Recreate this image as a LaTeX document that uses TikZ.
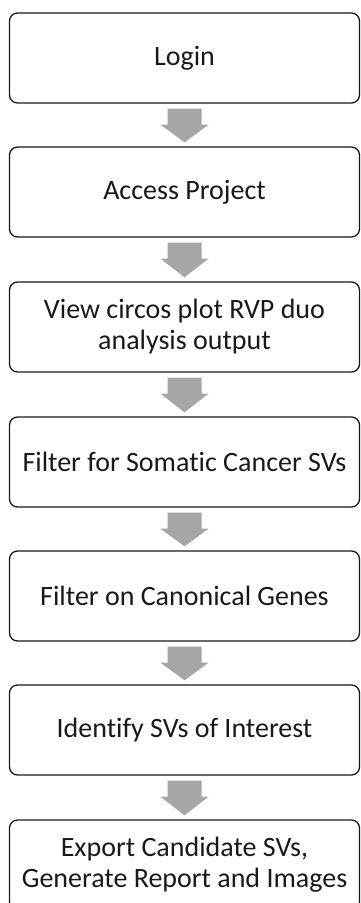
\documentclass[tikz,border=0pt]{standalone}
\usepackage{fontspec}
\setmainfont{Carlito}[Ligatures=NoCommon]
\tikzset{
  box/.style={draw=black!90, line width=1.3pt, rounded corners=8pt,
    minimum width=350pt, minimum height=90pt, inner sep=0pt, align=center,
    font=\fontsize{28}{31}\selectfont, text=black!90},
  flowarrow/.style={fill=black!35, draw=none}
}
\newcommand{\flowarr}[2]{%
  \fill[flowarrow] ([xshift=-17pt,yshift=-5pt]#1.south) -- ++(34pt,0) -- ++(0,-16pt)
    -- ++(7pt,0) -- ([yshift=4pt]#2.north) -- ([xshift=-24pt,yshift=-21pt]#1.south)
    -- ++(7pt,0) -- cycle;}
\begin{document}
\begin{tikzpicture}
\useasboundingbox (0,0) rectangle (361pt,-903pt);
\node[box] (n1) at (184.5pt,-58pt) {Login};
\node[box] (n2) at (184.5pt,-192pt) {Access Project};
\node[box] (n3) at (184.5pt,-327pt) {View circos plot RVP duo\\analysis output};
\node[box] (n4) at (184.5pt,-462pt) {Filter for Somatic Cancer SVs};
\node[box] (n5) at (184.5pt,-596pt) {Filter on Canonical Genes};
\node[box] (n6) at (184.5pt,-730pt) {Identify SVs of Interest};
\node[box] (n7) at (184.5pt,-865pt) {Export Candidate SVs,\\Generate Report and Images};
\flowarr{n1}{n2}
\flowarr{n2}{n3}
\flowarr{n3}{n4}
\flowarr{n4}{n5}
\flowarr{n5}{n6}
\flowarr{n6}{n7}
\end{tikzpicture}
\end{document}
